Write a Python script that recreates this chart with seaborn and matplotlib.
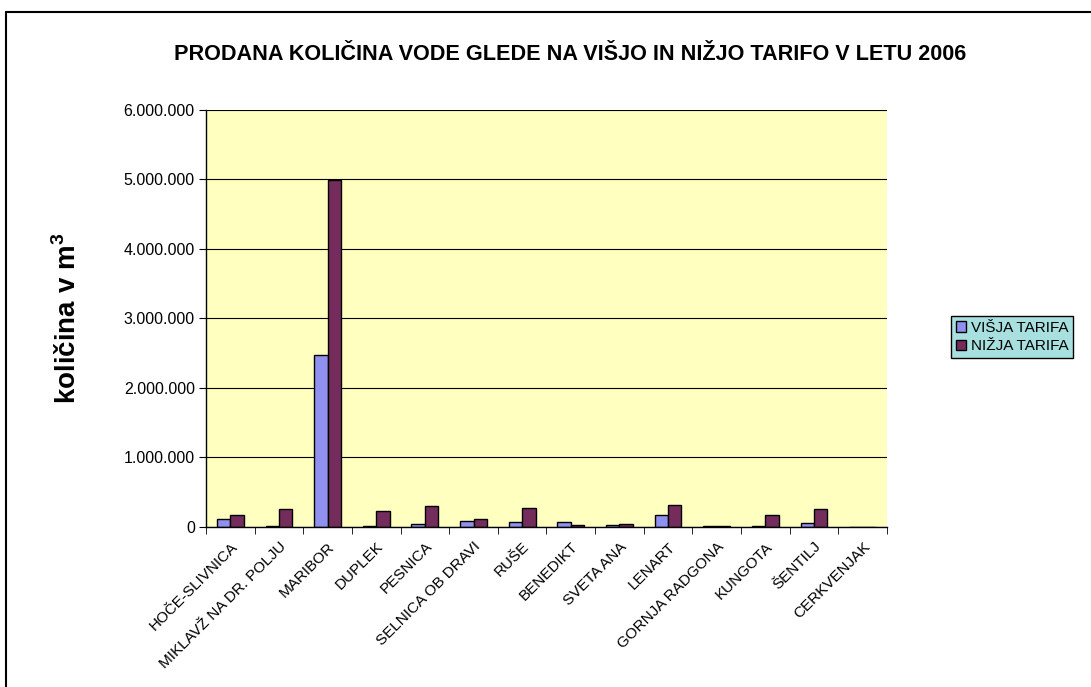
import pandas as pd
import numpy as np
import seaborn as sns
import matplotlib.pyplot as plt
from matplotlib.ticker import FuncFormatter, FixedLocator
from matplotlib.lines import Line2D

# data (m3)
obcine = ["HOČE-SLIVNICA", "MIKLAVŽ NA DR. POLJU", "MARIBOR", "DUPLEK", "PESNICA",
          "SELNICA OB DRAVI", "RUŠE", "BENEDIKT", "SVETA ANA", "LENART",
          "GORNJA RADGONA", "KUNGOTA", "ŠENTILJ", "CERKVENJAK"]
visja = [120000, 15000, 2470000, 8000, 50000, 91000, 72000, 77000, 30000, 168000,
         18000, 15000, 53000, 0]
nizja = [178000, 260000, 4990000, 236000, 308000, 110000, 279000, 34000, 48000, 322000,
         18000, 168000, 260000, 0]
serije = ["VIŠJA TARIFA", "NIŽJA TARIFA"]
barve = ["#8080FF", "#802060"]

df = pd.DataFrame({
    "obcina": obcine * 2,
    "tarifa": [serije[0]] * len(obcine) + [serije[1]] * len(obcine),
    "kolicina": visja + nizja,
})

sns.set_style("white")
plt.rcParams["font.family"] = ["Liberation Sans", "DejaVu Sans"]
plt.rcParams["text.color"] = "black"
plt.rcParams["axes.labelcolor"] = "black"
plt.rcParams["xtick.color"] = "black"
plt.rcParams["ytick.color"] = "black"
plt.rcParams["mathtext.fontset"] = "custom"
plt.rcParams["mathtext.rm"] = "Liberation Sans"
plt.rcParams["mathtext.bf"] = "Liberation Sans:bold"

fig = plt.figure(figsize=(10.91, 6.87), dpi=100)
ax = fig.add_axes([0.1888, 0.2329, 0.6242, 0.607])

sns.barplot(data=df, x="obcina", y="kolicina", hue="tarifa", palette=barve,
            width=0.55, edgecolor="black", linewidth=1, ax=ax, legend=True)

ax.set_facecolor("#FFFFC0")
ax.set_ylim(0, 6000000)
ax.set_xlim(-0.5, len(obcine) - 0.5)
ax.set_yticks(np.arange(0, 6000001, 1000000))
ax.yaxis.set_major_formatter(FuncFormatter(lambda v, p: f"{int(v):,}".replace(",", ".")))
ax.grid(axis="y", color="black", linewidth=0.8)
ax.set_axisbelow(True)

# tick marks between categories, labels at the bars
ax.set_xticks(range(len(obcine)))
ax.set_xticklabels(obcine, rotation=45, ha="right", rotation_mode="anchor", fontsize=11)
ax.tick_params(axis="x", which="major", length=0, pad=9)
ax.xaxis.set_minor_locator(FixedLocator(np.arange(-0.5, len(obcine), 1)))
ax.tick_params(axis="x", which="minor", length=5, direction="out", bottom=True, color="black")
ax.tick_params(axis="y", length=5, direction="out", left=True, labelsize=11.5, color="black", pad=3)

for s in ["top", "right"]:
    ax.spines[s].set_visible(False)
for s in ["left", "bottom"]:
    ax.spines[s].set_color("black")
    ax.spines[s].set_linewidth(1)

ax.set_xlabel("")
ax.set_ylabel("")
fig.text(68 / 1091, 1 - 318 / 687, "količina v m$^\\mathbf{3}$", rotation=90,
         ha="center", va="center", fontsize=20, fontweight="bold")

fig.text(570 / 1091, 1 - 55 / 687,
         "PRODANA KOLIČINA VODE GLEDE NA VIŠJO IN NIŽJO TARIFO V LETU 2006",
         ha="center", va="center", fontsize=15.6, fontweight="bold")

leg = ax.legend(loc="center left", bbox_to_anchor=(951 / 1091, 1 - 337 / 687),
                bbox_transform=fig.transFigure, frameon=True,
                fancybox=False, fontsize=11, handlelength=0.7, handleheight=0.7,
                handletextpad=0.3, borderpad=0.3, labelspacing=0.3, borderaxespad=0)
leg.get_frame().set_facecolor("#A8E0E0")
leg.get_frame().set_edgecolor("black")
leg.get_frame().set_alpha(1)

# outer chart frame (only left and top edges are inside the picture)
fig.add_artist(Line2D([6 / 1091, 6 / 1091], [0, 1 - 12 / 687], transform=fig.transFigure,
                      color="black", linewidth=1.5))
fig.add_artist(Line2D([6 / 1091, 1], [1 - 12 / 687, 1 - 12 / 687], transform=fig.transFigure,
                      color="black", linewidth=1.5))

fig.savefig("out.png", dpi=100)
